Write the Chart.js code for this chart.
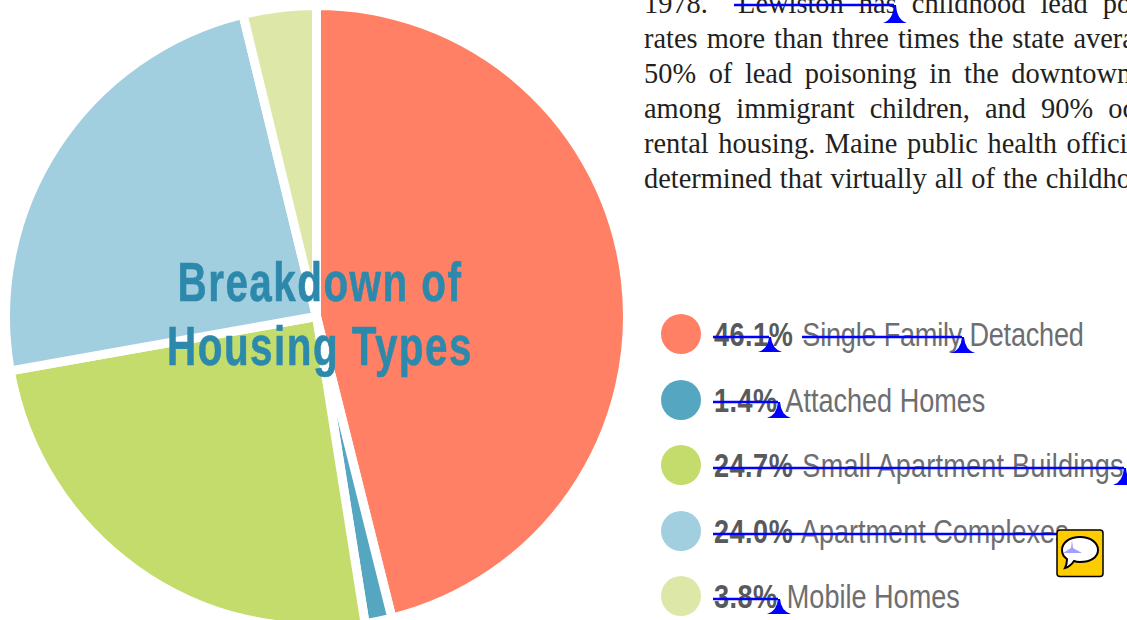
<!DOCTYPE html>
<html>
<head>
<meta charset="utf-8">
<style>
  html, body { margin: 0; padding: 0; background: #fff; overflow: hidden; }
  #wrap { position: relative; width: 1127px; height: 620px; overflow: hidden; }
  #chart { position: absolute; left: 1px; top: 1px; }
  .body-line { position: absolute; left: 644px; font: 28.4px "Liberation Serif", serif; color: #231f20; white-space: pre; }
  .title { position: absolute; left: 320px; transform: translateX(-50%) scaleX(0.735); font: bold 55px "Liberation Sans", sans-serif; letter-spacing: 2px; -webkit-text-stroke: 0.6px #2d89ac; color: #2d89ac; white-space: nowrap; }
  .legend-row { position: absolute; left: 714px; font: 33px "Liberation Sans", sans-serif; color: #6d6e71; white-space: nowrap; transform-origin: left center; transform: scaleX(0.82); }
  .legend-row b { color: #58595b; letter-spacing: 0.6px; margin-right: 2px; }
  .dot { position: absolute; left: 661px; width: 40px; height: 40px; border-radius: 50%; }
  #marks { position: absolute; left: 0; top: 0; }
</style>
</head>
<body>
<div id="wrap">
  <canvas id="chart" width="631" height="631"></canvas>
  <div id="text"></div>
  <svg id="marks" width="1127" height="620" xmlns="http://www.w3.org/2000/svg"></svg>
</div>
<script src="https://cdn.jsdelivr.net/npm/chart.js@4"></script>
<script>
const categories = ["Single Family Detached", "Attached Homes", "Small Apartment Buildings", "Apartment Complexes", "Mobile Homes"];
const shares = [46.1, 1.4, 24.7, 24.0, 3.8];
const shareLabels = ["46.1%", "1.4%", "24.7%", "24.0%", "3.8%"];
const colors = ["#ff8065", "#55a6c0", "#c4dc6b", "#a2cfdf", "#dde8a8"];
const bodyLines = [
  "1978.  Lewiston has childhood lead poisoning",
  "rates more than three times the state average,",
  "50% of lead poisoning in the downtown area",
  "among immigrant children, and 90% occurs in",
  "rental housing. Maine public health officials",
  "determined that virtually all of the childhood"
];
const titleLines = ["Breakdown of", "Housing Types"];

const text = document.getElementById("text");
const wordGaps = [8, 2, 5.5, 8, 2.5, 1]; // lines are justified in the source
bodyLines.forEach((line, i) => {
  const el = document.createElement("div");
  el.className = "body-line";
  el.style.top = (-12 + i * 35) + "px";
  el.style.wordSpacing = wordGaps[i] + "px";
  el.textContent = line;
  text.appendChild(el);
});
titleLines.forEach((line, i) => {
  const el = document.createElement("div");
  el.className = "title";
  el.style.top = (250 + i * 64) + "px";
  el.textContent = line;
  text.appendChild(el);
});
const nameTracking = [-0.25, 0, 0.27, 0, 0]; // substitute font runs a bit off per row
categories.forEach((name, i) => {
  const top = 334 + i * 65.5;
  const dot = document.createElement("div");
  dot.className = "dot";
  dot.style.top = (top - 20) + "px";
  dot.style.background = colors[i];
  text.appendChild(dot);
  const row = document.createElement("div");
  row.className = "legend-row";
  row.style.top = (top - 18) + "px";
  row.innerHTML = "<b>" + shareLabels[i] + "</b> <span style=\"letter-spacing:" + nameTracking[i] + "px\">" + name + "</span>";
  text.appendChild(row);
});

// blue markup strokes and the note icon on top of the text
const marks = document.getElementById("marks");
function strike(x1, x2, y, tipBottom) {
  let s = `<line x1="${x1}" x2="${x2}" y1="${y}" y2="${y}" stroke="#0000ff" stroke-width="2.4"/>`;
  if (tipBottom) {
    const cx = x2 + 1;
    s += `<path d="M${cx - 1} ${y} L${cx + 1} ${y} Q${cx + 2} ${tipBottom - 3} ${cx + 12} ${tipBottom} L${cx - 12} ${tipBottom} Q${cx - 2} ${tipBottom - 3} ${cx - 1} ${y} Z" fill="#0000ff"/>`;
  }
  marks.innerHTML += s;
}
strike(734, 894, 5, 23);
strike(713, 769, 337, 352);
strike(802, 962, 337, 353);
strike(713, 778, 402, 418);
strike(713, 1124, 468, 485);
strike(713, 1060, 534);
strike(713, 778, 599, 614);
marks.innerHTML += `<rect x="1057" y="530" width="46" height="46.5" rx="3" fill="#ffcc00" stroke="#000" stroke-width="1.5"/>
  <path d="M1080 537 C1091 537 1098 543 1098 550 C1098 557 1091 562 1080 562 C1078 562 1076 562 1074 561 C1072 564 1069 567 1065 568 C1067 564 1067 562 1067 559 C1064 557 1062 554 1062 550 C1062 543 1069 537 1080 537 Z" fill="#fff" stroke="#000" stroke-width="2"/>
  <path d="M1072 540 L1073 548 L1082 553 L1063 553 L1071 548 Z" fill="#a0a0ff"/>`;

new Chart(document.getElementById("chart"), {
  type: "pie",
  data: {
    labels: categories,
    datasets: [{
      data: shares,
      backgroundColor: colors,
      borderColor: "#fff",
      borderWidth: 9
    }]
  },
  options: {
    responsive: false,
    animation: false,
    layout: { padding: 0 },
    plugins: { legend: { display: false }, tooltip: { enabled: false } }
  }
});
</script>
</body>
</html>
